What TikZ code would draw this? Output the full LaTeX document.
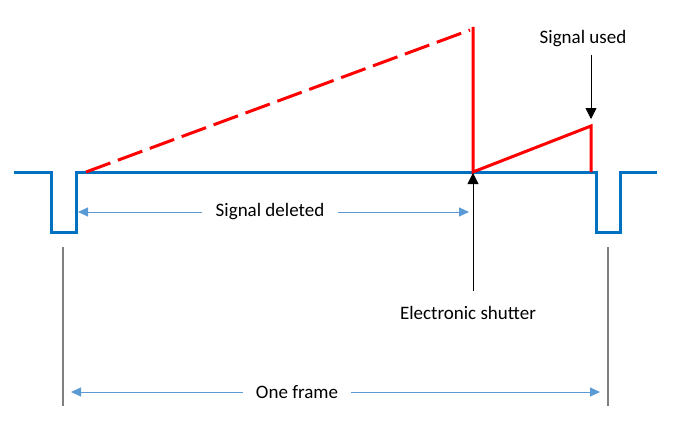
\documentclass[tikz,border=0pt]{standalone}
\usepackage{fontspec}
\setmainfont{Carlito}
\usetikzlibrary{arrows.meta}
\definecolor{wblue}{HTML}{0070C0}
\definecolor{lblue}{HTML}{5B9BD5}
\definecolor{wred}{HTML}{FF0000}
\definecolor{lgray}{HTML}{7F7F7F}
\tikzset{
  wave/.style={wblue,line width=3pt,line join=miter},
  sig/.style={wred,line width=3pt},
  dim/.style={lblue,line width=1pt,-{Triangle[length=10pt,width=9pt]}},
  pointer/.style={black,line width=0.8pt,-{Triangle[length=11pt,width=11pt]}},
  guide/.style={lgray,line width=1.2pt},
  lbl/.style={font=\fontsize{19pt}{22pt}\selectfont,inner sep=0pt,text=black}
}
\begin{document}
\begin{tikzpicture}[x=1pt,y=-1pt]
\useasboundingbox (0,0) rectangle (675,436);
% waveform coordinates
\coordinate (w0) at (14,172);
\coordinate (w1) at (51,172);
\coordinate (w2) at (51,232);
\coordinate (w3) at (76,232);
\coordinate (w4) at (76,172);
\coordinate (w5) at (596,172);
\coordinate (w6) at (596,232);
\coordinate (w7) at (620,232);
\coordinate (w8) at (620,172);
\coordinate (w9) at (657,172);
\draw[wave] (w0) -- (w1) -- (w2) -- (w3) -- (w4) -- (w5) -- (w6) -- (w7) -- (w8) -- (w9);
% red signal
\coordinate (r0) at (86,172);
\coordinate (r1) at (470,30);
\coordinate (s0) at (473,172);
\coordinate (s1) at (473,27);
\coordinate (u1) at (591,126);
\coordinate (u0) at (591,172);
\draw[sig,dash pattern=on 26pt off 8pt] (r0) -- (r1);
\draw[sig] (s1) -- (s0) -- (u1) -- (u0);
% Signal used
\node[lbl] (used) at (583,39) {Signal used};
\coordinate (usedtop) at (591,55);
\coordinate (usedtip) at (591,119);
\draw[pointer] (usedtop) -- (usedtip);
% Electronic shutter
\node[lbl] (shutter) at (468,313) {Electronic shutter};
\coordinate (shbot) at (473,291);
\coordinate (shtip) at (473,173);
\draw[pointer] (shbot) -- (shtip);
% Signal deleted
\node[lbl] (deleted) at (270,212) {Signal deleted};
\coordinate (dl) at (78,212);
\coordinate (dr) at (469,212);
\draw[dim] ([xshift=-14pt]deleted.west) -- (dl);
\draw[dim] ([xshift=14pt]deleted.east) -- (dr);
% guides
\coordinate (g1a) at (63,247);
\coordinate (g1b) at (63,406);
\coordinate (g2a) at (608,247);
\coordinate (g2b) at (608,406);
\draw[guide] (g1a) -- (g1b);
\draw[guide] (g2a) -- (g2b);
% One frame
\node[lbl] (frame) at (297,392) {One frame};
\coordinate (fl) at (71,392);
\coordinate (fr) at (600,392);
\draw[dim] ([xshift=-13pt]frame.west) -- (fl);
\draw[dim] ([xshift=13pt]frame.east) -- (fr);
\end{tikzpicture}
\end{document}
